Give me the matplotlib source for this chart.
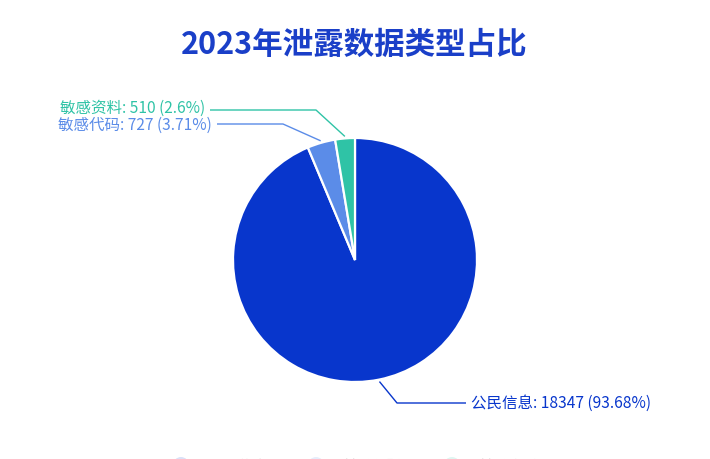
import numpy as np
import matplotlib
matplotlib.use("Agg")
import matplotlib.pyplot as plt

plt.rcParams['font.family'] = ['Noto Sans CJK SC', 'DejaVu Sans']

title = "2023年泄露数据类型占比"
categories = ["公民信息", "敏感代码", "敏感资料"]
values = [18347, 727, 510]
colors = ["#0836cc", "#5b8ce8", "#2fc3a6"]

W, H = 710, 459
fig = plt.figure(figsize=(W / 100, H / 100), dpi=100)
ax = fig.add_axes([0, 0, 1, 1])

def Y(y):
    return H - y

cx, cy, R = 355, 260, 122
ax.pie(values, colors=colors, startangle=90, counterclock=False,
       center=(cx, Y(cy)), radius=R,
       wedgeprops=dict(edgecolor="white", linewidth=1.6))
ax.set_xlim(0, W)
ax.set_ylim(0, H)
ax.set_aspect("equal")
ax.axis("off")

total = sum(values)
fracs = [v / total for v in values]
cum = np.cumsum([0] + fracs)

def pct_str(f):
    return f"{f * 100:.2f}".rstrip("0").rstrip(".")

# label layouts: (elbow point, end point, text pos, ha)
layouts = [
    ((397, 403), (466, 403), (471, 403), "left"),
    ((283, 124), (217, 124), (212, 125), "right"),
    ((316, 110), (210, 110), (205, 108), "right"),
]

for i, (name, v) in enumerate(zip(categories, values)):
    mid = 90 - 360 * (cum[i] + cum[i + 1]) / 2
    a = np.deg2rad(mid)
    ex, ey = cx + (R + 2) * np.cos(a), cy - (R + 2) * np.sin(a)
    (bx, by), (tx, ty), (lx, ly), ha = layouts[i]
    ax.plot([ex, bx, tx], [Y(ey), Y(by), Y(ty)], color=colors[i], lw=1.0,
            solid_capstyle="butt")
    ax.text(lx, Y(ly), f"{name}: {v} ({pct_str(fracs[i])}%)", color=colors[i],
            fontsize=11.2, ha=ha, va="center")

ax.text(354, Y(45), title, color="#1a3fc8", fontsize=22, fontweight="bold",
        ha="center", va="center")

# legend (mostly cut off at the bottom, as in the reference)
leg_x = [181, 316, 452]
for i, name in enumerate(categories):
    ax.add_patch(plt.Circle((leg_x[i], Y(465)), 8, color=colors[i], alpha=0.15,
                            lw=0))
    ax.text(leg_x[i] + 28, Y(467), name, color="#bbbbbb", fontsize=10.5,
            ha="left", va="center", alpha=0.7)

fig.savefig("out.png", dpi=100, facecolor="white")
